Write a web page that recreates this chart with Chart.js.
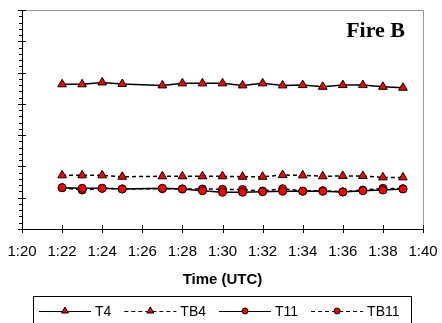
<!DOCTYPE html>
<html>
<head>
<meta charset="utf-8">
<script src="https://cdn.jsdelivr.net/npm/chart.js@4.4.0/dist/chart.umd.min.js"></script>
<style>
  body { margin: 0; background: #fff; }
  canvas { display: block; }
</style>
</head>
<body>
<canvas id="fireChart" width="442" height="323"></canvas>
<script>
// minutes after 0:00 UTC (1:26 has no sample)
var times = [82, 83, 84, 85, 87, 88, 89, 90, 91, 92, 93, 94, 95, 96, 97, 98, 99];
var t4 = [342.5, 342.5, 343.7, 342.7, 341.8, 343.1, 343.1, 343.1, 341.8, 343.1, 341.8, 342.0, 340.9, 342.0, 342.0, 340.9, 340.3];
var tb4 = [284.3, 284.3, 284.3, 283.4, 283.7, 283.7, 283.7, 283.7, 283.4, 283.4, 284.5, 284.3, 283.7, 283.9, 283.9, 283.0, 283.0];
var t11 = [276.4, 276.0, 276.0, 275.6, 276.0, 275.6, 274.5, 273.5, 273.5, 273.8, 274.1, 274.1, 274.1, 273.6, 274.5, 274.9, 275.6];
var tb11 = [276.4, 274.9, 276.0, 275.6, 275.8, 275.6, 275.6, 275.4, 275.2, 274.3, 275.8, 274.3, 274.5, 273.8, 274.9, 276.0, 275.8];
var seriesNames = ['T4', 'TB4', 'T11', 'TB11'];

function pts(vals) {
    return times.map(function (t, i) { return { x: t, y: vals[i] }; });
}

function fmtTime(m) {
    var h = Math.floor(m / 60);
    var mm = m % 60;
    return h + ':' + (mm < 10 ? '0' : '') + mm;
}

// ticks crossing the axes, minor ticks, plot frame, title box and legend
var decorPlugin = {
    id: 'decor',
    afterDraw: function (chart) {
        var ctx = chart.ctx;
        var a = chart.chartArea;
        var xs = chart.scales.x, ys = chart.scales.y;
        ctx.save();

        // gray frame top and right
        ctx.strokeStyle = '#999999';
        ctx.lineWidth = 1;
        ctx.beginPath();
        ctx.moveTo(a.left, a.top + 0.5);
        ctx.lineTo(a.right + 0.5, a.top + 0.5);
        ctx.lineTo(a.right + 0.5, a.bottom);
        ctx.stroke();

        ctx.strokeStyle = '#000';
        ctx.beginPath();
        for (var v = ys.min; v <= ys.max + 0.01; v += 4) {
            var py = Math.round(ys.getPixelForValue(v)) + 0.5;
            var major = Math.abs((v - ys.min) % 20) < 0.01;
            ctx.moveTo(a.left - (major ? 4 : 3), py);
            ctx.lineTo(a.left + (major ? 4 : 0), py);
        }
        for (var m = xs.min; m <= xs.max; m += 2) {
            var px = Math.round(xs.getPixelForValue(m)) + 0.5;
            ctx.moveTo(px, a.bottom - 4);
            ctx.lineTo(px, a.bottom + 4);
        }
        ctx.stroke();

        // Fire B label
        ctx.fillStyle = '#000';
        ctx.font = 'bold 22px "Liberation Serif", "Times New Roman", serif';
        ctx.textAlign = 'right';
        ctx.textBaseline = 'alphabetic';
        ctx.fillText('Fire B', a.right - 18, a.top + 27);

        // legend box
        var ly = 311;
        ctx.strokeStyle = '#000';
        ctx.lineWidth = 1;
        ctx.strokeRect(33.5, 296.5, 378, 40);
        ctx.font = '14px "Liberation Sans", Arial, sans-serif';
        ctx.textAlign = 'left';
        ctx.textBaseline = 'middle';
        var x = 39;
        chart.data.datasets.forEach(function (ds) {
            ctx.strokeStyle = '#000';
            ctx.lineWidth = 1;
            ctx.setLineDash(ds.borderDash || []);
            ctx.beginPath();
            ctx.moveTo(x, ly + 0.5);
            ctx.lineTo(x + 52, ly + 0.5);
            ctx.stroke();
            ctx.setLineDash([]);
            ctx.fillStyle = ds.pointBackgroundColor;
            ctx.strokeStyle = '#000';
            ctx.lineWidth = 1;
            Chart.helpers.drawPoint(ctx, { pointStyle: ds.pointStyle, radius: ds.pointStyle === 'triangle' ? 4 : 3, borderWidth: 1 }, x + 26, ly);
            ctx.fillStyle = '#000';
            ctx.fillText(ds.label, x + 56, ly + 1);
            x += 56 + ctx.measureText(ds.label).width + 13;
        });
        ctx.restore();
    }
};

function makeSet(label, vals, dashed, style) {
    return {
        label: label,
        data: pts(vals),
        borderColor: '#000',
        borderWidth: 1.5,
        borderDash: dashed ? [4, 3] : [],
        pointStyle: style,
        pointRadius: style === 'triangle' ? 5 : 4,
        pointHoverRadius: style === 'triangle' ? 5 : 4,
        pointBackgroundColor: '#ff0000',
        pointBorderColor: '#000',
        pointBorderWidth: 1,
        tension: 0,
        fill: false
    };
}

var ctx = document.getElementById('fireChart').getContext('2d');

var fireChart = new Chart(ctx, {
    type: 'line',
    data: {
        datasets: [
            makeSet(seriesNames[0], t4, false, 'triangle'),
            makeSet(seriesNames[1], tb4, true, 'triangle'),
            makeSet(seriesNames[2], t11, false, 'circle'),
            makeSet(seriesNames[3], tb11, true, 'circle')
        ]
    },
    options: {
        responsive: false,
        animation: false,
        layout: {
            padding: { left: 22, right: 19, top: 10, bottom: 30 }
        },
        plugins: {
            legend: { display: false },
            title: { display: false },
            tooltip: { enabled: false }
        },
        scales: {
            x: {
                type: 'linear',
                min: 80,
                max: 100,
                afterFit: function (scale) {
                    // let the layout padding decide the plot edges
                    scale.paddingLeft = 0;
                    scale.paddingRight = 0;
                },
                ticks: {
                    stepSize: 2,
                    autoSkip: false,
                    maxRotation: 0,
                    padding: 14,
                    color: '#000',
                    font: { family: '"Liberation Sans", Arial, sans-serif', size: 15 },
                    callback: function (v) { return fmtTime(v); }
                },
                grid: { display: false, drawTicks: false },
                border: { display: true, color: '#000', width: 1 },
                title: {
                    display: true,
                    text: 'Time (UTC)',
                    color: '#000',
                    font: { family: '"Liberation Sans", Arial, sans-serif', size: 15, weight: 'bold' },
                    padding: { top: -4, bottom: 4 }
                }
            },
            y: {
                min: 250,
                max: 390,
                ticks: { display: false, stepSize: 20 },
                grid: { display: false, drawTicks: false },
                border: { display: true, color: '#000', width: 1 }
            }
        }
    },
    plugins: [decorPlugin]
});
</script>
</body>
</html>
